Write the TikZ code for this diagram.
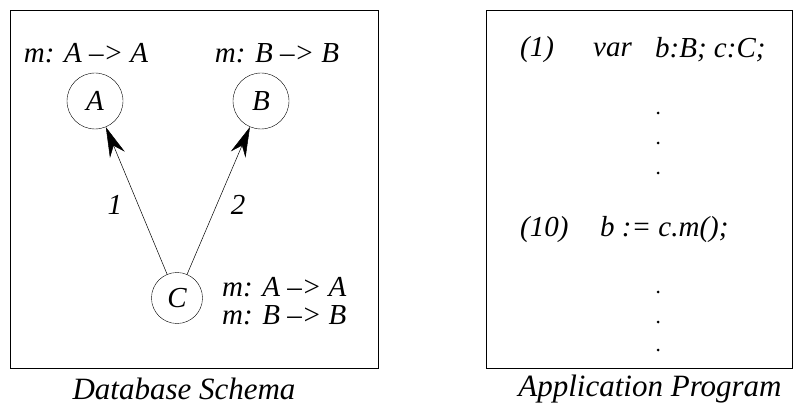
\documentclass[tikz,border=0pt]{standalone}
\usepackage{fontspec}
\setmainfont{Liberation Serif}
\usetikzlibrary{arrows.meta}
\begin{document}
\begin{tikzpicture}[x=1pt, y=-1pt,
        frame/.style={draw, line width=0.7pt},
        cls/.style={draw, circle, minimum size=56pt, inner sep=0pt, font=\fontsize{29}{30}\selectfont\itshape},
        link/.style={-{Stealth[length=30pt, width=16pt]}, line width=0.5pt},
        sig/.style={font=\fontsize{29}{28}\selectfont\itshape, align=left, inner sep=0pt},
        code/.style={font=\fontsize{29}{30}\selectfont\itshape, anchor=west, inner sep=0pt},
        dot/.style={circle, fill, inner sep=0pt, minimum size=3pt},
        caption/.style={font=\fontsize{31}{34}\selectfont\itshape}]
    \useasboundingbox (0,0) rectangle (793,406);
    % database schema
    \draw[frame] (10,10) rectangle (378,368);
    \node[cls] (A) at (95,101) {A};
    \node[cls] (B) at (261,101) {B};
    \node[cls, minimum size=51pt] (C) at (177,298) {C};
    \node[sig] (sigA) at (86,53) {m: A --> A};
    \node[sig] (sigB) at (277,53) {m: B --> B};
    \node[sig, anchor=west] (sigC) at (222,301) {m: A --> A\\m: B --> B};
    \draw[link] (C) -- node[sig, pos=0.47, left=16pt]{1} (A);
    \draw[link] (C) -- node[sig, pos=0.47, right=14pt]{2} (B);
    \node[caption] (schema) at (184,389) {Database Schema};
    % application program
    \draw[frame] (486,10) rectangle (792,368);
    \node[code] (l1) at (520,50) {(1)};
    \node[code] (var) at (593,50) {var};
    \node[code] (decl) at (655,50) {b:B; c:C;};
    \node[code] (l10) at (520,230) {(10)};
    \node[code] (call) at (600,230) {b := c.m();};
    \foreach \y in {113,143,173,292,322,350}
        \node[dot] at (658,\y) {};
    \node[caption] (prog) at (650,389) {Application Program};
\end{tikzpicture}
\end{document}
